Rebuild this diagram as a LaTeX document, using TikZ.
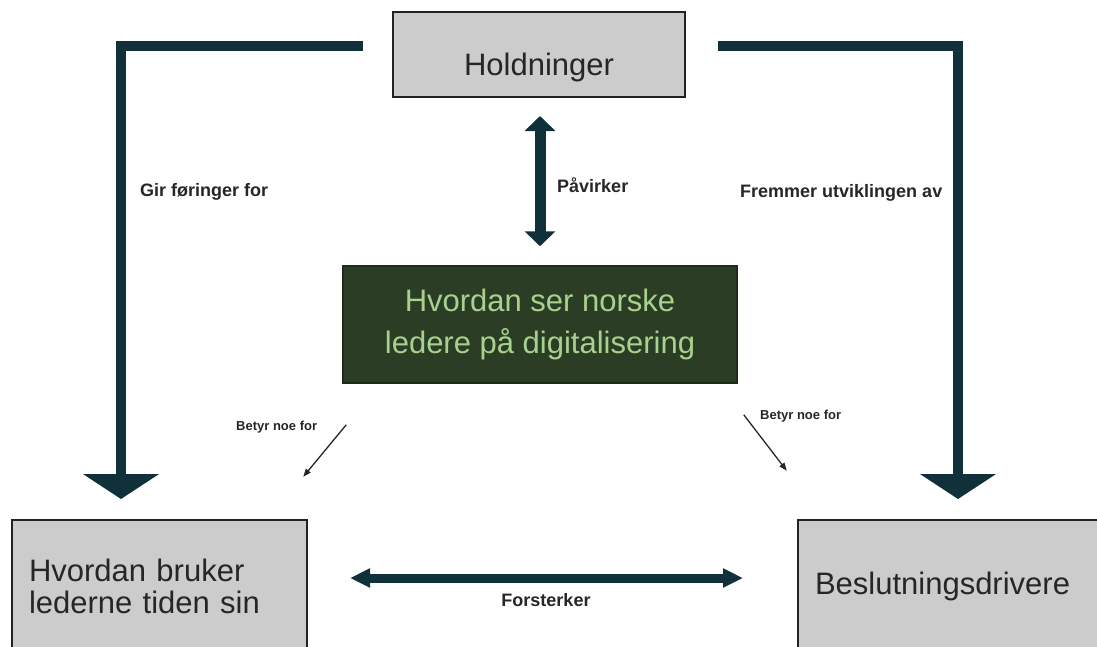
\documentclass[tikz,border=0pt]{standalone}
\usepackage{fontspec}
\setmainfont{Liberation Sans}
\usetikzlibrary{arrows.meta,calc}
\definecolor{flowteal}{HTML}{10303A}
\definecolor{boxgrey}{HTML}{CCCCCC}
\definecolor{boxedge}{HTML}{222222}
\definecolor{deepgreen}{HTML}{2B3D25}
\definecolor{palegreen}{HTML}{A9D18E}
\tikzset{
  greybox/.style={rectangle, fill=boxgrey, draw=boxedge, line width=2pt,
    text=black!85, font=\fontsize{31}{32}\selectfont},
  darkbox/.style={rectangle, fill=deepgreen, draw=deepgreen!70!black, line width=1.5pt,
    text=palegreen, font=\fontsize{31}{42}\selectfont, align=center},
  bigarrow/.style={draw=flowteal, line width=10pt, line join=miter,
    -{Triangle[length=25pt,width=75pt]}},
  midarrow/.style={draw=flowteal, line width=11pt,
    {Triangle[length=15pt,width=30pt]}-{Triangle[length=15pt,width=30pt]}},
  linkarrow/.style={draw=flowteal, line width=9pt,
    {Triangle[length=20pt,width=18pt]}-{Triangle[length=20pt,width=18pt]}},
  thinarrow/.style={draw=black!85, line width=1.3pt,
    -{Triangle[length=8pt,width=6pt]}},
  tag/.style={font=\bfseries\fontsize{18}{20}\selectfont, text=black!85, inner sep=0pt},
  smalltag/.style={font=\bfseries\fontsize{13}{15}\selectfont, text=black!85, inner sep=0pt}
}
\begin{document}
\begin{tikzpicture}[x=1pt,y=-1pt]
\useasboundingbox (0,0) rectangle (1097,646);
\clip (0,0) rectangle (1097,646);

% boxes
\node[greybox, minimum width=292pt, minimum height=85pt,
      text height=41pt, text depth=0pt] (hold) at (539,54.5) {Holdninger};
\node[darkbox, minimum width=394pt, minimum height=117pt] (centre) at (540,324.5)
  {Hvordan ser norske\\ledere på digitalisering};
\node[greybox, minimum width=295pt, minimum height=132pt, text width=261pt,
      align=left, inner xsep=17pt] (tid) at (159.5,586)
  {Hvordan bruker\\lederne tiden sin};
\node[greybox, minimum width=314pt, minimum height=132pt, text width=280pt,
      align=left, inner xsep=17pt] (beslut) at (955,586)
  {Beslutningsdrivere};

% thick connectors
\draw[bigarrow] ($(hold.west)+(-29,-8.5)$) -| ($(tid.north)+(-38.5,-20)$);
\draw[bigarrow] ($(hold.east)+(32,-8.5)$) -| ($(beslut.north)+(3,-20)$);
\draw[midarrow] ($(hold.south)+(1,18)$) -- ($(centre.north)+(0,-19)$);
\draw[linkarrow] ($(tid.east)+(42,-8)$) -- ($(beslut.west)+(-54,-8)$);

% thin connectors
\draw[thinarrow] ($(centre.south west)+(4,41)$) -- ($(centre.south west)+(-39,93)$);
\draw[thinarrow] ($(centre.south east)+(6,31)$) -- ($(centre.south east)+(49,87)$);

% labels
\node[tag, anchor=west] (lgir) at (140,192) {Gir føringer for};
\node[tag, anchor=west] (lfrem) at (740,193) {Fremmer utviklingen av};
\node[tag, anchor=west] (lpaa) at (557,185) {Påvirker};
\node[tag] (lfor) at (546,600) {Forsterker};
\node[smalltag, anchor=west] (lbet1) at (236,427) {Betyr noe for};
\node[smalltag, anchor=west] (lbet2) at (760,416) {Betyr noe for};
\end{tikzpicture}
\end{document}
